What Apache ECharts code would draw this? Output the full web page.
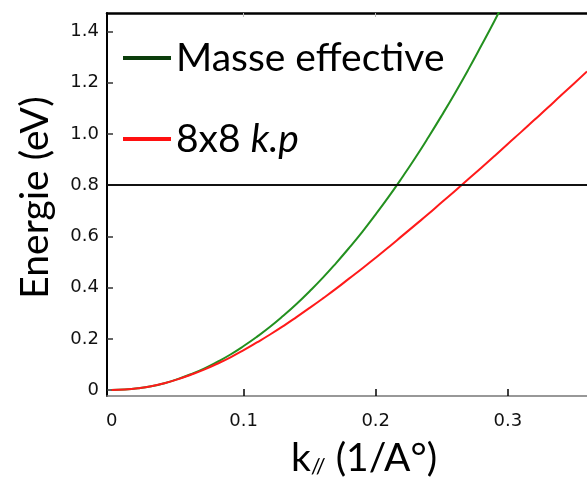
<!DOCTYPE html>
<html>
<head>
<meta charset="utf-8">
<script src="https://cdn.jsdelivr.net/npm/echarts@6/dist/echarts.min.js"></script>
<style>html,body{margin:0;padding:0;background:#fff;}#c{width:587px;height:483px;}</style>
</head>
<body>
<div id="c"></div>
<script>
// k values (1/Å)
const kValues = [0,0.01,0.02,0.03,0.04,0.05,0.06,0.07,0.08,0.09,0.10,0.11,0.12,0.13,0.14,0.15,0.16,0.17,0.18,0.19,0.20,0.21,0.22,0.23,0.24,0.25,0.26,0.27,0.28,0.29,0.30,0.31,0.32,0.33,0.34,0.35,0.36];
// Masse effective (eV)
const masseEffective = [0,0.002,0.007,0.015,0.027,0.043,0.062,0.084,0.110,0.139,0.172,0.208,0.247,0.290,0.336,0.386,0.439,0.496,0.556,0.619,0.686,0.756,0.830,0.907,0.988,1.072,1.159,1.250,1.345,1.442,1.543,1.648,1.756,1.868,1.983,2.101,2.223];
// 8x8 k.p (eV)
const kp8x8 = [0,0.002,0.007,0.015,0.027,0.042,0.060,0.080,0.103,0.128,0.156,0.186,0.217,0.250,0.285,0.321,0.358,0.396,0.436,0.476,0.517,0.559,0.602,0.645,0.688,0.733,0.777,0.823,0.868,0.914,0.961,1.007,1.054,1.101,1.149,1.196,1.244];
const seriesNames = ['Masse effective', '8x8 k.p'];
const xTickValues = [0.1, 0.2, 0.3];
const xLabelValues = [0, 0.1, 0.2, 0.3];
const yTickValues = [0, 0.2, 0.4, 0.6, 0.8, 1.0, 1.2, 1.4];
const refLine = 0.8;

const chart = echarts.init(document.getElementById('c'), null, {renderer: 'canvas'});
const pairs = arr => kValues.map((k, i) => [k, arr[i]]);
const labelFont = {fontFamily: 'DejaVu Sans', fontSize: 18, color: '#111'};

chart.setOption({
  animation: false,
  backgroundColor: '#fff',
  grid: {left: 107, right: 0, top: 13, bottom: 85, containLabel: false},
  legend: {
    orient: 'vertical', left: 123, top: 37, itemGap: 39, padding: 0,
    icon: 'rect', itemWidth: 48, itemHeight: 4,
    data: seriesNames,
    textStyle: {fontFamily: 'Lato', fontSize: 39, color: '#000', lineHeight: 42,
      rich: {i: {fontFamily: 'Lato', fontSize: 39, fontStyle: 'italic', color: '#000'}}},
    formatter: n => n === '8x8 k.p' ? '8x8 {i|k.p}' : n
  },
  xAxis: [{
    type: 'value', min: -0.0035, max: 0.36, position: 'bottom',
    name: 'k{sub|//} (1/A°)', nameLocation: 'middle', nameGap: 43,
    nameTextStyle: {fontFamily: 'Lato', fontSize: 39, color: '#000', padding: [0, 0, 0, 34],
      rich: {sub: {fontFamily: 'Lato', fontSize: 22, color: '#000', padding: [16, 0, 0, 0]}}},
    axisLine: {show: true, onZero: false, lineStyle: {color: '#777', width: 1.5}},
    axisTick: {show: true, inside: true, length: 7, customValues: xTickValues, lineStyle: {color: '#000', width: 1.5}},
    axisLabel: Object.assign({margin: 16, customValues: xLabelValues, formatter: v => v === 0 ? '0' : v.toFixed(1)}, labelFont),
    splitLine: {show: false}
  }, {
    type: 'value', min: -0.0035, max: 0.36, position: 'top',
    axisLine: {show: true, onZero: false, lineStyle: {color: '#000', width: 2.5}},
    axisTick: {show: true, inside: true, length: 4, customValues: [0.1, 0.2], lineStyle: {color: '#bbb', width: 1}},
    axisLabel: {show: false}, splitLine: {show: false}
  }],
  yAxis: {
    type: 'value', min: -0.023, max: 1.472,
    name: 'Energie (eV)', nameLocation: 'middle', nameGap: 52, nameRotate: 90,
    nameTextStyle: {fontFamily: 'Lato', fontSize: 39, color: '#000', padding: [0, 0, 0, 14]},
    axisLine: {show: true, onZero: false, lineStyle: {color: '#000', width: 2}},
    axisTick: {show: true, inside: true, length: 6, customValues: yTickValues, lineStyle: {color: '#333', width: 1.5}},
    axisLabel: Object.assign({margin: 8, customValues: yTickValues, formatter: v => v === 0 ? '0' : v.toFixed(1)}, labelFont),
    splitLine: {show: false}
  },
  series: [{
    name: seriesNames[0], type: 'line', data: pairs(masseEffective), smooth: true,
    showSymbol: false, symbol: 'none', clip: true,
    itemStyle: {color: '#0b3d0b'},
    lineStyle: {color: '#23901f', width: 2}
  }, {
    name: seriesNames[1], type: 'line', data: pairs(kp8x8), smooth: true,
    showSymbol: false, symbol: 'none', clip: true,
    itemStyle: {color: '#ff1010'},
    lineStyle: {color: '#ff1a1a', width: 2},
    markLine: {silent: true, symbol: 'none', label: {show: false},
      lineStyle: {color: '#111', width: 2, type: 'solid'},
      data: [{yAxis: refLine}]}
  }]
});
</script>
</body>
</html>
